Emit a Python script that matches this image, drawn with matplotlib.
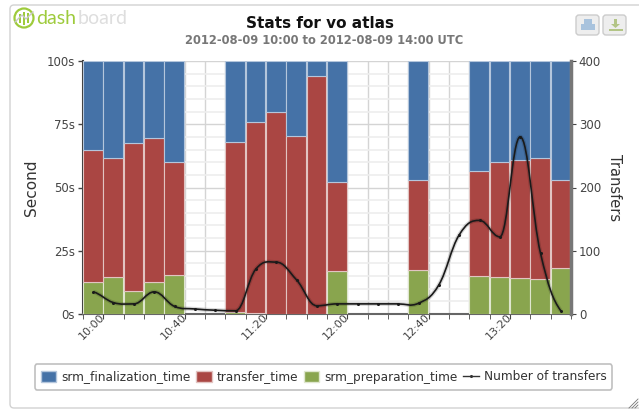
import numpy as np
import matplotlib
matplotlib.use('Agg')
import matplotlib.pyplot as plt
from matplotlib.lines import Line2D
from matplotlib.patches import FancyBboxPatch, Circle, Rectangle, PathPatch, Patch
from matplotlib.path import Path

# slot index of each bar (10 minute bins, 0 = 09:50)
slots = [0, 1, 2, 3, 4, 7, 8, 9, 10, 11, 12, 16, 19, 20, 21, 22, 23]
preparation = [12.5, 14.5, 9, 12.5, 15.5, 0.8, 0.4, 0, 0, 0, 17, 17.5, 15, 14.5, 14.3, 13.8, 18]
transfer = [52.5, 47, 58.5, 57, 44.5, 67.2, 75.6, 80, 70.5, 94, 35, 35.5, 41.5, 45.5, 46.7, 47.7, 35]
finalization = [35, 38.5, 32.5, 30.5, 40, 32, 24, 20, 29.5, 6, 48, 47, 43.5, 40, 39, 38.5, 47]

# number of transfers for every slot
transfers = [35, 18, 16, 35, 12, 8, 6, 5, 71, 82, 54, 13, 16, 16, 16, 16, 17, 46, 125, 148, 122, 280, 96, 5]

tick_slots = [1, 5, 9, 13, 17, 21]
tick_labels = ['10:00', '10:40', '11:20', '12:00', '12:40', '13:20']

BLUE = '#4572A7'
RED = '#AA4643'
GREEN = '#89A54E'
W, H = 639, 409


def smooth_path(xs, ys, k=0.2):
    # bezier handles through each value, flat at the peaks and dips
    n = len(xs)
    slope = [0.0] * n
    for i in range(n):
        a, b = max(i - 1, 0), min(i + 1, n - 1)
        if 0 < i < n - 1 and (ys[i] - ys[a]) * (ys[b] - ys[i]) <= 0:
            continue
        slope[i] = ys[b] - ys[a]
    verts = [(xs[0], ys[0])]
    codes = [Path.MOVETO]
    for i in range(n - 1):
        verts += [(xs[i] + 0.4, ys[i] + k * slope[i]),
                  (xs[i + 1] - 0.4, ys[i + 1] - k * slope[i + 1]),
                  (xs[i + 1], ys[i + 1])]
        codes += [Path.CURVE4, Path.CURVE4, Path.CURVE4]
    return Path(verts, codes)


fig = plt.figure(figsize=(W / 100, H / 100), dpi=100)
fig.patch.set_facecolor('white')

# outer rounded frame, runs off the right and bottom
bg = fig.add_axes([0, 0, 1, 1], zorder=0)
bg.set_xlim(0, W)
bg.set_ylim(H, 0)
bg.axis('off')
bg.add_patch(FancyBboxPatch((10, 5), 660, 403, boxstyle='round,pad=0,rounding_size=4',
                            fc='white', ec='#d2d2d2', lw=1))

ax = fig.add_axes([83 / W, 1 - 314 / H, 488 / W, 253 / H], zorder=2)
ax.patch.set_alpha(0)
ax.bar(slots, preparation, width=0.96, align='edge', color=GREEN, edgecolor='#dfe6ce', linewidth=0.8, zorder=3)
ax.bar(slots, transfer, width=0.96, align='edge', bottom=preparation, color=RED, edgecolor='#e2c4c2', linewidth=0.8, zorder=3)
bottom2 = np.array(preparation) + np.array(transfer)
ax.bar(slots, finalization, width=0.96, align='edge', bottom=bottom2, color=BLUE, edgecolor='#b4c6dc', linewidth=0.8, zorder=3)

ax.set_xlim(0, 24)
ax.set_ylim(0, 100)
ax.set_yticks([0, 25, 50, 75, 100])
ax.set_yticklabels(['0s', '25s', '50s', '75s', '100s'], fontsize=8.5, color='#444444')
ax.set_yticks(np.arange(0, 101, 5), minor=True)
ax.set_xticks(range(25), minor=True)
ax.set_xticks(tick_slots)
ax.set_xticklabels(tick_labels, fontsize=8, color='#444444', rotation=45, ha='right', va='center',
                   rotation_mode='anchor')
ax.tick_params(axis='x', which='both', length=3.6, color='#444444', pad=-2.5, direction='out')
ax.tick_params(axis='y', which='major', length=3.6, color='#444444', width=1, pad=2)
ax.tick_params(axis='y', which='minor', length=0)
ax.grid(True, axis='x', which='both', color='#d4d4d4', linewidth=1, zorder=1)
ax.grid(True, axis='y', which='minor', color='#eeeeee', linewidth=1.2, zorder=1)
ax.grid(True, axis='y', which='major', color='#d4d4d4', linewidth=1, zorder=1)
ax.set_axisbelow(True)
ax.set_ylabel('Second', fontsize=11, color='#333333', labelpad=6)
for side in ['top', 'right']:
    ax.spines[side].set_visible(False)
ax.spines['left'].set_color('#444444')
ax.spines['left'].set_linewidth(1.5)
ax.spines['bottom'].set_color('#666666')
ax.spines['bottom'].set_linewidth(1.5)

ax2 = ax.twinx()
ax2.set_zorder(3)
ax2.patch.set_alpha(0)
ax2.set_ylim(0, 400)
ax2.set_yticks([0, 100, 200, 300, 400])
ax2.set_yticklabels(['0', '100', '200', '300', '400'], fontsize=8.5, color='#444444')
ax2.tick_params(axis='y', length=3.6, color='#444444', pad=2)
ax2.set_ylabel('Transfers', fontsize=10.5, color='#333333', rotation=270, labelpad=15)
for side in ['top', 'left', 'bottom']:
    ax2.spines[side].set_visible(False)
ax2.spines['right'].set_color('#777777')
ax2.spines['right'].set_linewidth(2.5)

xs = np.arange(len(transfers)) + 0.5
curve = smooth_path(xs, transfers)
ax2.add_patch(PathPatch(curve, fc='none', ec='#000000', lw=3, alpha=0.15, zorder=4))
ax2.add_patch(PathPatch(curve, fc='none', ec='#1a1a1a', lw=1.2, zorder=5))
ax2.plot(xs, transfers, ls='none', marker='o', ms=1.2, color='#1a1a1a', zorder=6)

fig.text(320 / W, 1 - 24 / H, 'Stats for vo atlas', fontsize=11, fontweight='bold', color='#111111', ha='center', va='center')
fig.text(324 / W, 1 - 40.5 / H, '2012-08-09 10:00 to 2012-08-09 14:00 UTC', fontsize=8.3, fontweight='bold', color='#777777', ha='center', va='center')

# logo
bg.add_patch(Circle((24, 18), 9.5, fc='none', ec='#9ecb3c', lw=1.6))
for bx, bh in zip([19, 23, 27], [9, 13, 10]):
    bg.add_patch(Rectangle((bx, 18 - bh / 2), 2, bh, fc='#9ecb3c', ec='none'))
bg.plot([15, 22, 26, 33], [22, 15, 19, 12], color='#c8c8c8', lw=1)
bg.text(36, 18.5, 'dash', fontsize=14, family='Lato', color='#9ecb3c', ha='left', va='center')
bg.text(78, 18.5, 'board', fontsize=14, family='Lato', color='#dedede', ha='left', va='center')

# print and export buttons
for bx, ic in [(576, '#a9c3dd'), (603, '#b3c586')]:
    bg.add_patch(FancyBboxPatch((bx, 15), 23, 20, boxstyle='round,pad=0,rounding_size=3',
                                fc='#eeeeee', ec='#cccccc', lw=1))
bg.add_patch(Rectangle((584, 19), 8, 5, fc='#a9c3dd', ec='none'))
bg.add_patch(Rectangle((581, 24), 14, 6, fc='#a9c3dd', ec='none'))
bg.add_patch(Rectangle((609, 29), 14, 2, fc='#b3c586', ec='none'))
bg.add_patch(Rectangle((614, 19), 3, 5, fc='#b3c586', ec='none'))
bg.fill([611, 620, 615.5], [24, 24, 28], color='#b3c586', lw=0)

handles = [Patch(fc=BLUE, ec='#b4c6dc', label='srm_finalization_time'),
           Patch(fc=RED, ec='#e2c4c2', label='transfer_time'),
           Patch(fc=GREEN, ec='#dfe6ce', label='srm_preparation_time'),
           Line2D([0], [0], color='#333333', lw=1, marker='o', ms=1.2, label='Number of transfers')]
leg = fig.legend(handles=handles, ncol=4, loc='center', bbox_to_anchor=(323.5 / W, 1 - 377 / H),
                 fontsize=8.75, frameon=True, fancybox=True, edgecolor='#c0c0c0',
                 columnspacing=0.45, handletextpad=0.4, handlelength=1.3, handleheight=1.0,
                 borderpad=0.5, borderaxespad=0, framealpha=1, labelcolor='#333333')
leg.get_frame().set_linewidth(1.2)

# resize grip in the corner
for d in [3, 6, 9]:
    bg.plot([W - 1 - d, W - 1], [H - 1, H - 1 - d], color='#777777', lw=0.6)

fig.savefig('out.png', dpi=100)
